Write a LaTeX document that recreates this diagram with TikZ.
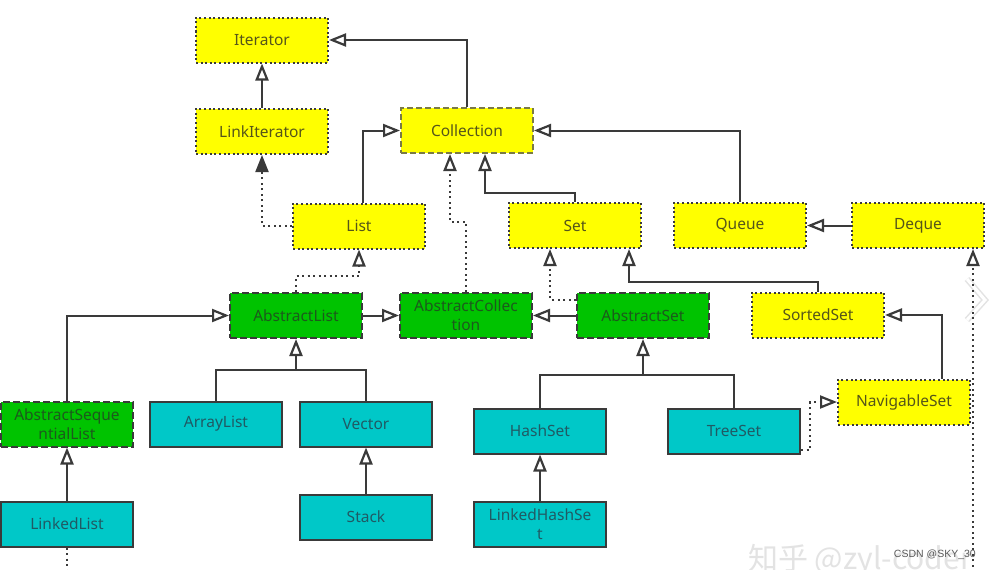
\documentclass[tikz,border=0pt]{standalone}
\usepackage{fontspec}
\setmainfont{Noto Sans}
\newfontfamily\cjkfont{Noto Sans CJK SC}
\newfontfamily\markfont{Liberation Sans}
\usetikzlibrary{arrows.meta}

\definecolor{ifill}{HTML}{FFFF00}
\definecolor{afill}{HTML}{00C300}
\definecolor{cfill}{HTML}{00C8C8}
\definecolor{edge}{HTML}{3A3A3A}
\definecolor{itext}{HTML}{55551A}
\definecolor{atext}{HTML}{1C5A1C}
\definecolor{ctext}{HTML}{205A64}
\definecolor{colledge}{HTML}{7A7A45}

\tikzset{
  box/.style={rectangle, minimum width=132pt, minimum height=45pt,
    line width=2pt, align=center,
    font=\fontsize{15.5}{19}\selectfont, inner sep=2pt},
  iface/.style={box, fill=ifill, draw=edge, text=itext,
    dash pattern=on 2pt off 2.6pt},
  rootface/.style={box, fill=ifill, draw=colledge, text=itext,
    dash pattern=on 6pt off 3pt},
  abscls/.style={box, fill=afill, draw=edge, text=atext,
    dash pattern=on 7pt off 3pt},
  concls/.style={box, fill=cfill, draw=edge, text=ctext},
  link/.style={draw=edge, line width=2pt},
  ext/.style={link, -{Triangle[open, length=17pt, width=13pt, line width=2.2pt]}},
  impl/.style={ext, dash pattern=on 2pt off 3.5pt},
  implfill/.style={link, dash pattern=on 2pt off 3.5pt,
    -{Triangle[length=17pt, width=13pt]}},
}

\begin{document}
\begin{tikzpicture}[x=1pt, y=-1pt]
\useasboundingbox[fill=white] (0,0) rectangle (989,570);

% watermark chevron at the right edge
\draw[line width=6pt, gray!22, line join=miter] (967,279) -- (985,300) -- (967,320);
\draw[line width=3pt, white, line join=miter] (967,279) -- (985,300) -- (967,320);

% interfaces
\node[iface] (iter) at (262,40) {Iterator};
\node[iface] (linkit) at (262,131.5) {LinkIterator};
\node[rootface] (coll) at (467,130.5) {Collection};
\node[iface] (list) at (359,226) {List};
\node[iface] (set) at (575,225.5) {Set};
\node[iface] (queue) at (740,225.5) {Queue};
\node[iface] (deque) at (918,225.5) {Deque};
\node[iface] (sset) at (818,315) {SortedSet};
\node[iface] (nset) at (904,402) {NavigableSet};

% abstract classes
\node[abscls] (alist) at (296,315.5) {AbstractList};
\node[abscls] (acoll) at (466,315.5) {AbstractCollec\\tion};
\node[abscls] (aset) at (643,315.5) {AbstractSet};
\node[abscls] (aseq) at (67,424) {AbstractSeque\\ntialList};

% concrete classes
\node[concls] (arrlist) at (216,424) {ArrayList};
\node[concls] (vec) at (366,424) {Vector};
\node[concls] (stack) at (366,517) {Stack};
\node[concls] (llist) at (67,524) {LinkedList};
\node[concls] (hset) at (540,431) {HashSet};
\node[concls] (tset) at (734,431) {TreeSet};
\node[concls] (lhset) at (540,524) {LinkedHashSe\\t};

% interface hierarchy
\draw[ext] (linkit.north) -- (iter.south);
\draw[ext] (coll.north) |- (iter.east);
\draw[ext] ([xshift=4pt]list.north) |- (coll.west);
\draw[ext] (set.north) -- ++(0,-9) -| ([xshift=18pt]coll.south);
\draw[ext] (queue.north) |- (coll.east);
\draw[ext] (deque.west) -- (queue.east);
\draw[ext] (sset.north) -- ++(0,-10) -| ([xshift=54pt]set.south);
\draw[ext] ([xshift=38pt]nset.north) |- (sset.east);
\draw[implfill] (list.west) -| (linkit.south);

% abstract classes
\draw[impl] (alist.north) -- ++(0,-16) -| (list.south);
\draw[impl] (acoll.north) -- ++(0,-70) -| ([xshift=-17pt]coll.south);
\draw[impl] ([yshift=16pt]aset.west) -| ([xshift=-25pt]set.south);
\draw[ext] (alist.east) -- (acoll.west);
\draw[ext] (aset.west) -- (acoll.east);
\draw[ext] (aseq.north) |- (alist.west);

% list implementations
\path (alist.south) ++(0,31) coordinate (lbar);
\draw[link] (arrlist.north) |- (lbar) -| (vec.north);
\draw[ext] (lbar) -- (alist.south);
\draw[ext] (stack.north) -- (vec.south);
\draw[ext] (llist.north) -- (aseq.south);
\coordinate (lend) at (67,572);
\draw[link, dash pattern=on 2pt off 3.5pt] (llist.south) -- (lend);

% set implementations
\path (aset.south) ++(0,36) coordinate (sbar);
\draw[link] (hset.north) |- (sbar) -| (tset.north);
\draw[ext] (sbar) -- (aset.south);
\draw[ext] (lhset.north) -- (hset.south);
\draw[impl] ([yshift=5pt]tset.south east) -- ++(9,0) |- (nset.west);

% LinkedList implements Deque
\coordinate (dend) at (973,572);
\draw[impl] (dend) -- (dend |- deque.south);

% marks
\node[anchor=north west, inner sep=0pt, text=gray!22,
  font=\cjkfont\fontsize{30}{30}\selectfont] (wmark) at (748,544) {知乎 @zyl-coder};
\node[anchor=east, inner sep=0pt, text=black!65,
  font=\markfont\fontsize{10.5}{12}\selectfont] (csdn) at (976,555) {CSDN @SKY\_30};
\end{tikzpicture}
\end{document}
